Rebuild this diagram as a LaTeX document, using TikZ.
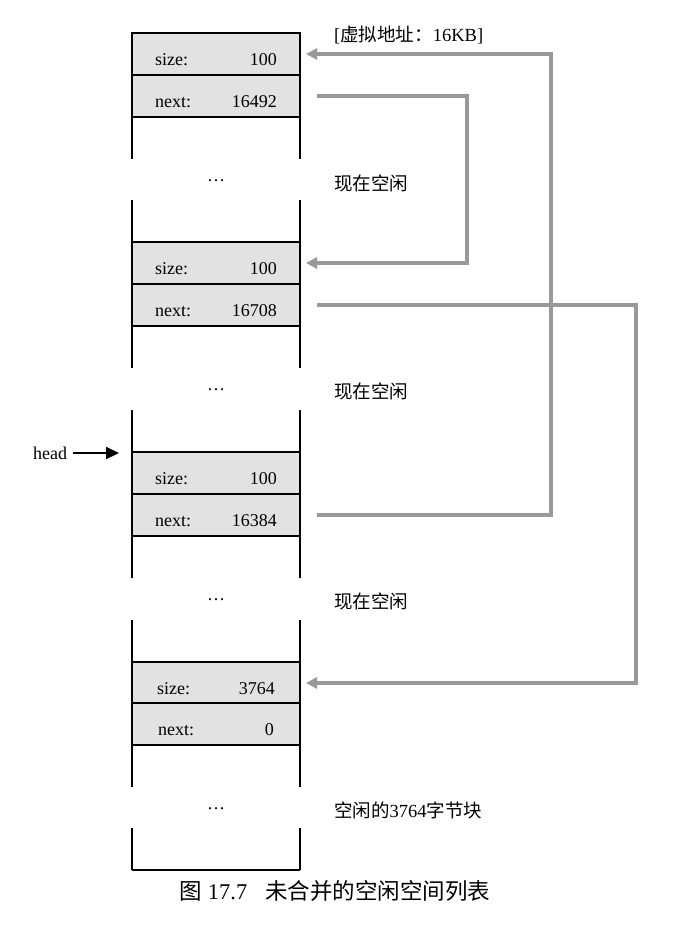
\documentclass[tikz,border=0pt]{standalone}
\usepackage{fontspec}
\setmainfont{Liberation Serif}
\newfontfamily\cjk{Noto Sans CJK SC}
\usetikzlibrary{arrows.meta,calc}
\definecolor{cellgray}{HTML}{E2E2E2}
\definecolor{arrgray}{HTML}{999999}
\tikzset{
  cell/.style={draw=black, line width=1.1pt, fill=cellgray, minimum width=168pt,
    minimum height=42pt, inner sep=0pt, outer sep=0pt},
  wall/.style={draw=black, line width=1.1pt},
  lbl/.style={inner sep=0pt, font=\fontsize{18}{20}\selectfont},
  note/.style={inner sep=0pt, anchor=west, font=\fontsize{18.5}{20}\selectfont},
  conn/.style={draw=arrgray, line width=4.5pt, -{Triangle[length=11pt,width=11pt]}},
  headarr/.style={draw=black, line width=2.2pt, -{Triangle[length=13pt,width=12pt]}}
}
\begin{document}
\begin{tikzpicture}[x=1pt,y=-1pt]
\useasboundingbox (0,0) rectangle (688,945);
\fill[white] (0,0) rectangle (688,945);

% column walls between blocks
\foreach \a/\b in {117/159, 200/243, 326/368, 410/452, 536/578, 620/662, 745/787, 828/870}{
  \draw[wall] (132,\a) -- (132,\b);
  \draw[wall] (300,\a) -- (300,\b);
}
\draw[wall] (132,870) -- (300,870);

% cells
\node[cell] (s1) at (216,54) {};
\node[cell] (n1) at (216,96) {};
\node[cell] (s2) at (216,263) {};
\node[cell] (n2) at (216,305) {};
\node[cell] (s3) at (216,473) {};
\node[cell] (n3) at (216,515) {};
\node[cell] (s4) at (216,683) {};
\node[cell] (n4) at (216,724) {};

% cell texts
\node[lbl, anchor=base west] (s1k) at (155,65) {size:};
\node[lbl, anchor=base east] (s1v) at (277,65) {100};
\node[lbl, anchor=base west] (n1k) at (155,107) {next:};
\node[lbl, anchor=base east] (n1v) at (277,107) {16492};
\node[lbl, anchor=base west] (s2k) at (155,274) {size:};
\node[lbl, anchor=base east] (s2v) at (277,274) {100};
\node[lbl, anchor=base west] (n2k) at (155,316) {next:};
\node[lbl, anchor=base east] (n2v) at (277,316) {16708};
\node[lbl, anchor=base west] (s3k) at (155,484) {size:};
\node[lbl, anchor=base east] (s3v) at (277,484) {100};
\node[lbl, anchor=base west] (n3k) at (155,526) {next:};
\node[lbl, anchor=base east] (n3v) at (277,526) {16384};
\node[lbl, anchor=base west] (s4k) at (157,694) {size:};
\node[lbl, anchor=base east] (s4v) at (275,694) {3764};
\node[lbl, anchor=base west] (n4k) at (158,735) {next:};
\node[lbl, anchor=base east] (n4v) at (274,735) {0};

% dots
\node[lbl] (d1) at (216,181) {…};
\node[lbl] (d2) at (216,390) {…};
\node[lbl] (d3) at (216,600) {…};
\node[lbl] (d4) at (216,809) {…};

% notes
\node[note] (t0) at (334,35) {[{\cjk 虚拟地址：}16KB]};
\node[note] (t1) at (334,183) {\cjk 现在空闲};
\node[note] (t2) at (334,391) {\cjk 现在空闲};
\node[note] (t3) at (334,601) {\cjk 现在空闲};
\node[note] (t4) at (334,810) {{\cjk 空闲的}3764{\cjk 字节块}};

% head pointer
\node[lbl, anchor=west] (head) at (33,453) {head};
\coordinate (headtip) at (119,453);
\draw[headarr] (head.east) ++(6,0) -- (headtip);

% connectors
\draw[conn] ($(n3.east)+(17,0)$) -| ($(s1.east)+(251,0)$) -- ($(s1.east)+(6,0)$);
\draw[conn] ($(n1.east)+(17,0)$) -| ($(s2.east)+(167,0)$) -- ($(s2.east)+(6,0)$);
\draw[conn] ($(n2.east)+(17,0)$) -| ($(s4.east)+(336,0)$) -- ($(s4.east)+(6,0)$);

% caption
\node[inner sep=0pt, font=\fontsize{22.5}{24}\selectfont] (cap) at (335,891) {{\cjk 图} 17.7\hspace{0.8em}{\cjk 未合并的空闲空间列表}};
\end{tikzpicture}
\end{document}
